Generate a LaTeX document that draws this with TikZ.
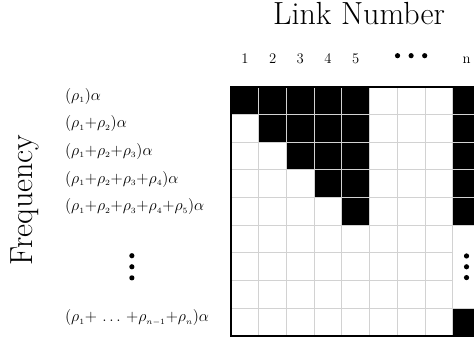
\documentclass[tikz,border=0pt]{standalone}
\usepackage{amsmath}
\usepackage{amssymb}
\usepackage{tikz}
\usepackage{xcolor}
\usetikzlibrary{positioning,calc}

\newcommand{\rhosub}[1]{\rho_{\scriptscriptstyle #1}}

\tikzset{
    gridline/.style={gray!35, line width=0.7pt},
    dotmark/.style={circle, fill=black, inner sep=0pt, minimum size=3.9pt},
    freqlabel/.style={anchor=west, inner sep=0pt, font=\fontsize{12.8}{14}\selectfont},
    linklabel/.style={anchor=base, inner sep=0pt, font=\fontsize{11}{12}\selectfont},
    axistitle/.style={anchor=base, inner sep=0pt, font=\fontsize{24}{27}\selectfont}
}

\begin{document}
\begin{tikzpicture}[scale=0.73]
    \useasboundingbox (-8.34,3.13) rectangle (8.77,-9.15);
    \clip (-8.34,3.13) rectangle (8.77,-9.15);

    % Occupied links
    \foreach \r in {1,...,5} {
        \foreach \c in {\r,...,5} {
            \fill (\c-1,-\r+1) rectangle (\c,-\r);
        }
        \fill (8,-\r+1) rectangle (9,-\r);
    }
    \fill (8,-8) rectangle (9,-9);

    % Grid
    \foreach \c in {1,...,9} {
        \draw[gridline] (\c,0) -- (\c,-9);
    }
    \foreach \r in {1,...,5,8} {
        \draw[gridline] (0,-\r) -- (9,-\r);
    }
    \foreach \r in {6,7} {
        \draw[gridline] (0,-\r) -- (8,-\r);
    }
    \draw[line width=1.5pt] (9.5,0) -- (0,0) -- (0,-9) -- (9.5,-9);

    % Link numbers
    \foreach \c in {1,...,5} {
        \node[linklabel] (link\c) at (\c-0.5,0.82) {\c};
    }
    \node[linklabel] (linkn) at (8.5,0.82) {n};
    \foreach \i in {-1,0,1} {
        \node[dotmark] (hdot\i) at (6.5+0.49*\i,1.12) {};
        \node[dotmark] (vdot\i) at (8.5,-6.5+0.39*\i) {};
        \node[dotmark] (fdot\i) at (-3.58,-6.5+0.4*\i) {};
    }

    % Frequencies
    \node[freqlabel] (freq1) at (-6,-0.34) {$(\rhosub{1})\alpha$};
    \node[freqlabel] (freq2) at (-6,-1.34) {$(\rhosub{1}{+}\rhosub{2})\alpha$};
    \node[freqlabel] (freq3) at (-6,-2.34) {$(\rhosub{1}{+}\rhosub{2}{+}\rhosub{3})\alpha$};
    \node[freqlabel] (freq4) at (-6,-3.34) {$(\rhosub{1}{+}\rhosub{2}{+}\rhosub{3}{+}\rhosub{4})\alpha$};
    \node[freqlabel] (freq5) at (-6,-4.34) {$(\rhosub{1}{+}\rhosub{2}{+}\rhosub{3}{+}\rhosub{4}{+}\rhosub{5})\alpha$};
    \node[freqlabel] (freqn) at (-6,-8.34) {$(\rhosub{1}{+}\,\ldots\,{+}\rhosub{n-1}{+}\rhosub{n})\alpha$};

    % Axis titles
    \node[axistitle] (linktitle) at (4.62,2.26) {Link Number};
    \node[axistitle, rotate=90] (freqtitle) at (-7.18,-4.09) {Frequency};
\end{tikzpicture}
\end{document}
